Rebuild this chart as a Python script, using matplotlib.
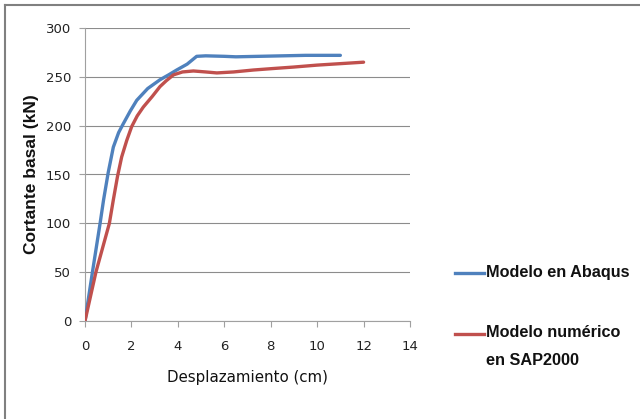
import matplotlib
matplotlib.use("Agg")
import matplotlib.pyplot as plt
from matplotlib.lines import Line2D

# Data
abaqus_x = [0, 0.32, 0.65, 0.8, 1.0, 1.22, 1.45, 1.65, 1.95, 2.23, 2.7, 3.23, 3.6, 3.95, 4.4, 4.81, 5.2, 6.0, 6.5, 7.5, 8.5, 9.5, 10.3, 11.0]
abaqus_y = [0, 50, 100, 124, 152, 178, 193, 202, 215, 226, 238, 247, 252, 257, 263, 271, 271.5, 271, 270.5, 271, 271.5, 272, 272, 272]
sap_x = [0, 0.47, 1.05, 1.22, 1.4, 1.58, 1.8, 2.01, 2.25, 2.51, 2.9, 3.23, 3.5, 3.81, 4.2, 4.67, 5.2, 5.68, 6.4, 7.26, 8.1, 8.98, 10.0, 11.0, 12.0]
sap_y = [0, 50, 100, 124, 148, 168, 185, 199, 210, 219, 230, 240, 246, 252, 255, 256, 255, 254, 255, 257, 258.5, 260, 262, 263.5, 265]
x_ticks = [0, 2, 4, 6, 8, 10, 12, 14]
y_ticks = [0, 50, 100, 150, 200, 250, 300]
series_labels = ["Modelo en Abaqus", "Modelo numérico\nen SAP2000"]
colors = ["#4F81BD", "#C0504D"]

fig = plt.figure(figsize=(6.4, 4.19), dpi=100)
ax = fig.add_axes([85/640, 1-321/419, 325/640, 293/419])

ax.plot(abaqus_x, abaqus_y, color=colors[0], lw=2.4, solid_capstyle="round", zorder=3)
ax.plot(sap_x, sap_y, color=colors[1], lw=2.4, solid_capstyle="round", zorder=3)

ax.set_xlim(0, 14)
ax.set_ylim(0, 300)
ax.set_xticks(x_ticks)
ax.set_yticks(y_ticks)
ax.grid(axis="y", color="#8c8c8c", lw=0.8)
ax.set_axisbelow(True)
for s in ["top", "right"]:
    ax.spines[s].set_visible(False)
for s in ["left", "bottom"]:
    ax.spines[s].set_color("#a0a0a0")
    ax.spines[s].set_linewidth(0.8)
ax.tick_params(axis="both", colors="#a0a0a0", length=4, width=0.8, labelcolor="#222222")
ax.tick_params(axis="x", pad=10)
ax.tick_params(axis="y", pad=6)
for lab in ax.get_xticklabels() + ax.get_yticklabels():
    lab.set_family("DejaVu Sans")
    lab.set_fontsize(9.5)

ax.set_xlabel("Desplazamiento (cm)", fontsize=10.8, color="#111111", labelpad=12)
ax.set_ylabel("Cortante basal (kN)", fontsize=12.5, fontweight="bold", color="#111111",
              family="Liberation Sans", labelpad=5)

# Legend
fig.add_artist(Line2D([455/640, 484/640], [1-273/419, 1-273/419], color=colors[0], lw=2.4))
fig.add_artist(Line2D([455/640, 484/640], [1-334/419, 1-334/419], color=colors[1], lw=2.4))
fig.text(486/640, 1-273/419, series_labels[0], fontsize=11.7, fontweight="bold",
         family="Liberation Sans", va="center", ha="left", color="#111111")
fig.text(486/640, 1-325/419, series_labels[1], fontsize=11.7, fontweight="bold",
         family="Liberation Sans", va="top", ha="left", color="#111111",
         linespacing=2.1)

# Figure border (top and left edges visible)
fig.add_artist(Line2D([5/640, 5/640], [0, 1-5/419], color="#808080", lw=1.5))
fig.add_artist(Line2D([5/640, 1], [1-5/419, 1-5/419], color="#808080", lw=1.5))

fig.savefig("out.png", dpi=100)
